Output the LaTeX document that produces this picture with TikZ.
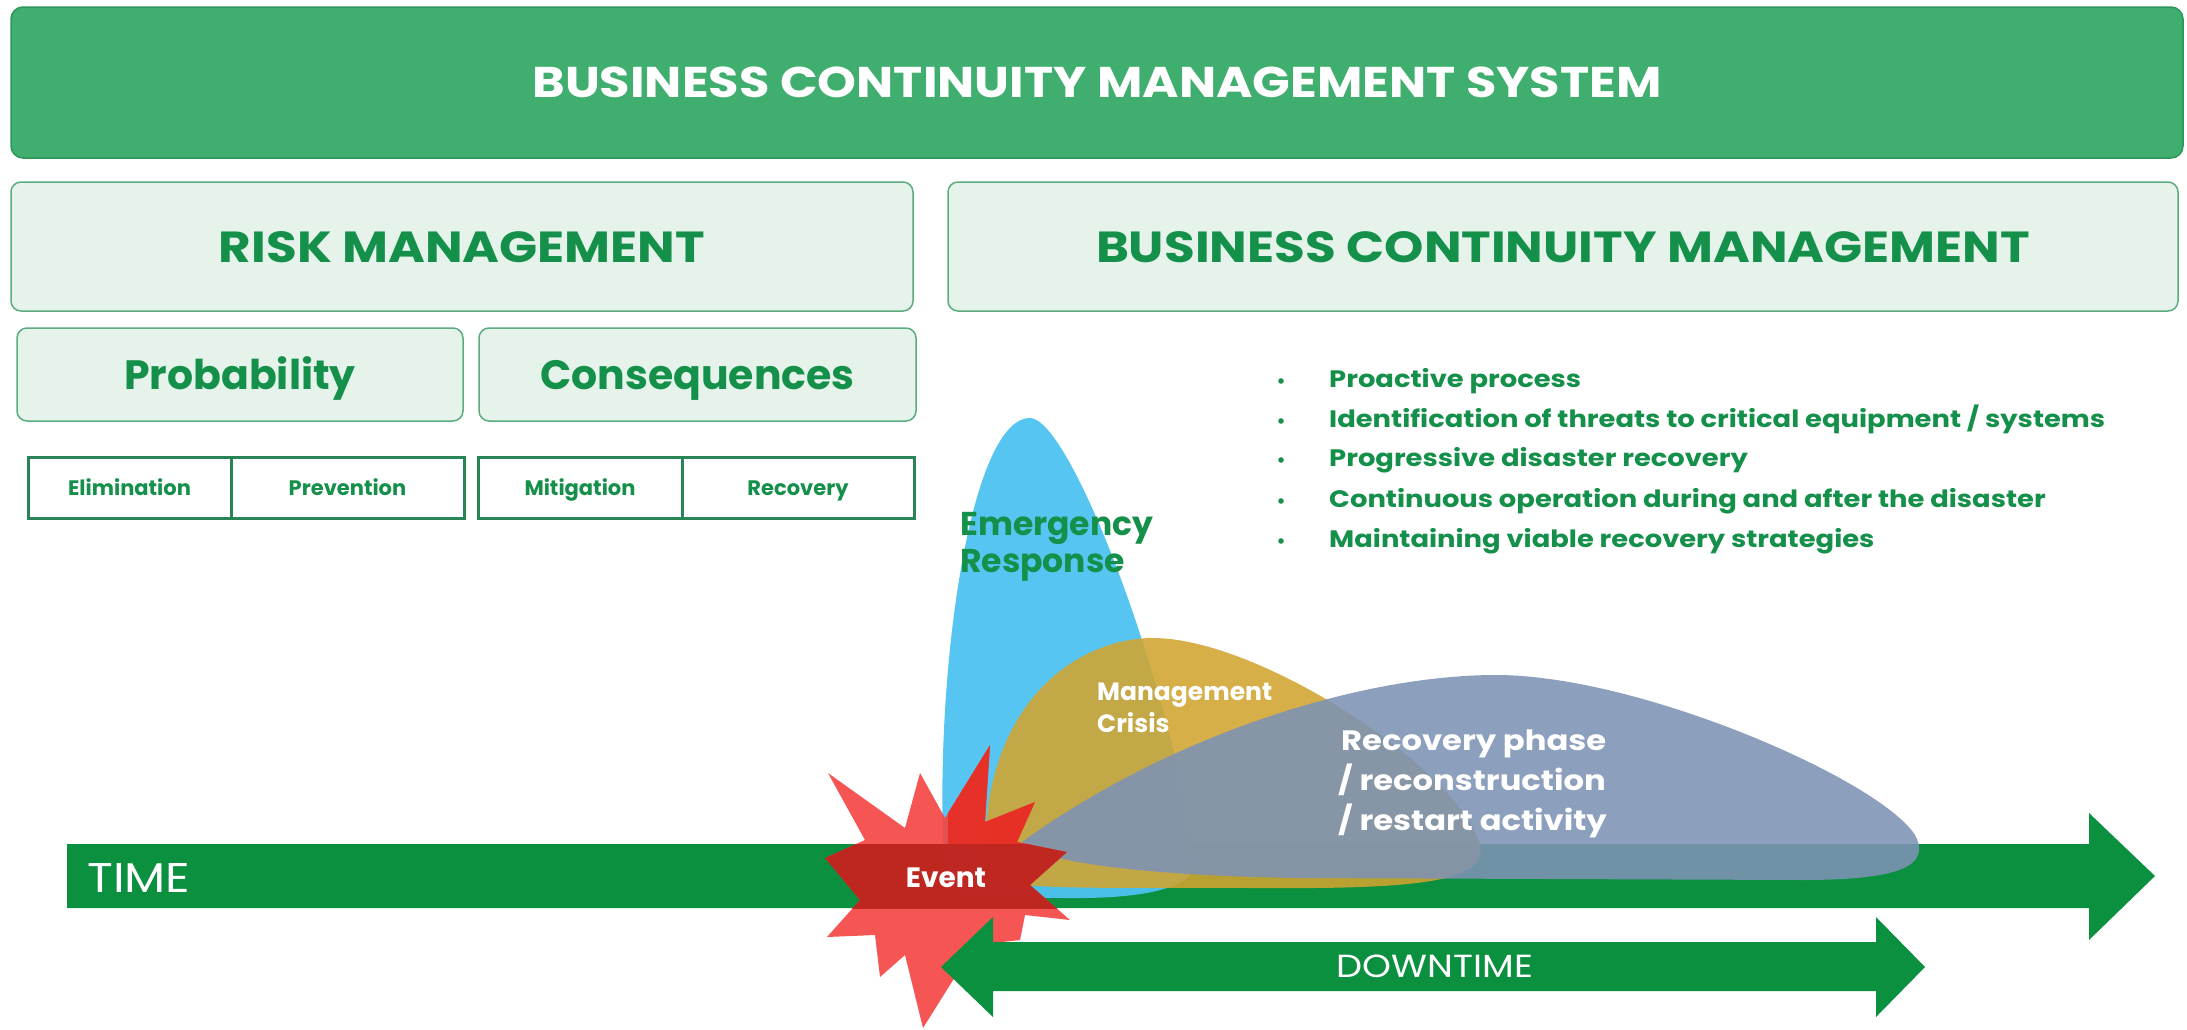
\documentclass[tikz,border=0pt]{standalone}
\usepackage{fontspec}
\setmainfont{Poppins}
\newfontfamily\widef[FakeStretch=1.15]{Poppins}
\definecolor{bannergreen}{RGB}{64,174,110}
\definecolor{bannerdark}{RGB}{46,150,90}
\definecolor{lightfill}{RGB}{229,243,235}
\definecolor{lightdraw}{RGB}{92,172,128}
\definecolor{txtgreen}{RGB}{20,144,74}
\definecolor{celldraw}{RGB}{40,132,84}
\definecolor{bandgreen}{RGB}{11,144,64}
\definecolor{erblue}{RGB}{78,194,242}
\definecolor{olive}{RGB}{210,164,48}
\definecolor{slate}{RGB}{125,147,181}
\definecolor{starred}{RGB}{245,68,66}
\definecolor{starhot}{RGB}{230,44,32}
\definecolor{stardark}{RGB}{188,36,30}
\tikzset{
  banner/.style={fill=bannergreen, draw=bannerdark, line width=1.5pt, rounded corners=12pt,
    text=white, font=\widef\bfseries\fontsize{43}{50}\selectfont, text height=30pt, text depth=0pt, inner sep=0pt},
  lbox/.style={fill=lightfill, draw=lightdraw, line width=1.5pt, rounded corners=10pt,
    text=txtgreen, inner sep=0pt, text depth=0pt},
  cell/.style={fill=white, draw=celldraw, line width=3pt, text=txtgreen, inner sep=0pt,
    font=\bfseries\fontsize{21}{24}\selectfont, text height=15pt, text depth=0pt},
  bullettxt/.style={anchor=base west, text=txtgreen, inner sep=0pt, font=\widef\bfseries\fontsize{23.8}{27}\selectfont},
  bulletdot/.style={anchor=base, text=txtgreen, inner sep=0pt, font=\bfseries\fontsize{18}{20}\selectfont},
  bandarrow/.style={fill=bandgreen},
  whitelbl/.style={text=white, inner sep=0pt}
}
\begin{document}
\begin{tikzpicture}[x=1pt,y=-1pt]
\useasboundingbox (0,0) rectangle (2187,1029);
\fill[white] (0,0) rectangle (2187,1029);

% header boxes
\node[banner, minimum width=2172pt, minimum height=151pt] (title) at (1097,82.5) {BUSINESS CONTINUITY MANAGEMENT SYSTEM};
\node[lbox, minimum width=902pt, minimum height=129pt, font=\widef\bfseries\fontsize{43.5}{50}\selectfont, text height=31pt] (rm) at (462,246.5) {RISK MANAGEMENT};
\node[lbox, minimum width=1230pt, minimum height=129pt, font=\widef\bfseries\fontsize{43.5}{50}\selectfont, text height=31pt] (bcm) at (1563,246.5) {BUSINESS CONTINUITY MANAGEMENT};
\node[lbox, minimum width=446pt, minimum height=93pt, font=\bfseries\fontsize{41}{48}\selectfont, text height=30pt] (prob) at (240,374.5) {Probability};
\node[lbox, minimum width=437pt, minimum height=93pt, font=\bfseries\fontsize{41}{48}\selectfont, text height=30pt] (cons) at (697.5,374.5) {Consequences};

\node[cell, minimum width=203pt, minimum height=61pt] (elim) at (129.5,487.5) {Elimination};
\node[cell, minimum width=233pt, minimum height=61pt] (prev) at (347.5,487.5) {Prevention};
\node[cell, minimum width=204pt, minimum height=61pt] (miti) at (580,487.5) {Mitigation};
\node[cell, minimum width=232pt, minimum height=61pt] (reco) at (798,487.5) {Recovery};

% bullets
\foreach \y/\t/\n in {387/{Proactive process}/b1,
  427/{Identification of threats to critical equipment / systems}/b2,
  466/{Progressive disaster recovery}/b3,
  507/{Continuous operation during and after the disaster}/b4,
  547/{Maintaining viable recovery strategies}/b5}{
  \node[bulletdot] (\n d) at (1281,\y) {•};
  \node[bullettxt] (\n) at (1329,\y) {\t};
}

% TIME arrow
\fill[bandarrow] (67,844) -- (2089,844) -- (2089,813) -- (2155,876) -- (2089,940) -- (2089,908) -- (67,908) -- cycle;

% phases
\fill[erblue, opacity=0.95] (945,880) .. controls (932,690) and (968,418) .. (1030,418)
  .. controls (1070,418) and (1170,680) .. (1195,860)
  .. controls (1197,892) and (1130,899) .. (1062,898)
  .. controls (995,897) and (948,900) .. (945,880) -- cycle;
\fill[olive, opacity=0.88] (985,872) .. controls (978,700) and (1080,638) .. (1153,638)
  .. controls (1260,638) and (1460,770) .. (1480,845)
  .. controls (1490,885) and (1400,889) .. (1250,888)
  .. controls (1100,887) and (990,892) .. (985,872) -- cycle;
\fill[slate, opacity=0.88] (1022,842) .. controls (1170,735) and (1360,675) .. (1496,675)
  .. controls (1640,675) and (1880,780) .. (1915,835)
  .. controls (1935,872) and (1880,880) .. (1800,880)
  -- (1300,878) .. controls (1150,876) and (1035,862) .. (1022,842) -- cycle;

% event star
\def\starpath{(825,858) -- (865,840) -- (828,773) -- (905,828) -- (920,773) -- (945,818) -- (990,745) -- (985,822) -- (1035,802) -- (1017,842) -- (1067,852) -- (1030,885) -- (1070,920) -- (1025,915) -- (1020,940) -- (975,945) -- (923,1028) -- (905,955) -- (880,977) -- (875,935) -- (827,937) -- (860,900) -- cycle}
\fill[starred, opacity=0.9] \starpath;
\begin{scope}
  \clip (948,700) rectangle (1100,844);
  \fill[starhot, opacity=0.85] \starpath;
\end{scope}
\begin{scope}
  \clip (67,844) rectangle (2089,908);
  \fill[stardark, opacity=0.92] \starpath;
\end{scope}

% DOWNTIME arrow
\fill[bandarrow] (941,967) -- (993,917) -- (993,942) -- (1876,942) -- (1876,917) -- (1925,967) -- (1876,1017) -- (1876,991) -- (993,991) -- (993,1017) -- cycle;

% labels
\node[whitelbl, anchor=base west, font=\widef\fontsize{41.5}{46}\selectfont] (time) at (87,892) {TIME};
\node[whitelbl, anchor=base, font=\widef\fontsize{32}{36}\selectfont] (down) at (1435,977) {DOWNTIME};
\node[whitelbl, anchor=base, font=\bfseries\fontsize{28}{32}\selectfont] (event) at (946,887) {Event};
\node[anchor=base west, inner sep=0pt, text=txtgreen, font=\bfseries\fontsize{33}{38}\selectfont] (er1) at (960,535) {Emergency};
\node[anchor=base west, inner sep=0pt, text=txtgreen, font=\bfseries\fontsize{33}{38}\selectfont] (er2) at (960,572) {Response};
\node[whitelbl, anchor=base west, font=\bfseries\fontsize{25}{30}\selectfont] (mc1) at (1097,700) {Management};
\node[whitelbl, anchor=base west, font=\bfseries\fontsize{25}{30}\selectfont] (mc2) at (1097,732) {Crisis};
\node[whitelbl, anchor=base west, font=\widef\bfseries\fontsize{28}{34}\selectfont] (rp1) at (1341,750) {Recovery phase};
\node[whitelbl, anchor=base west, font=\widef\bfseries\fontsize{28}{34}\selectfont] (rp2) at (1338,790) {/ reconstruction};
\node[whitelbl, anchor=base west, font=\widef\bfseries\fontsize{28}{34}\selectfont] (rp3) at (1338,830) {/ restart activity};
\end{tikzpicture}
\end{document}
